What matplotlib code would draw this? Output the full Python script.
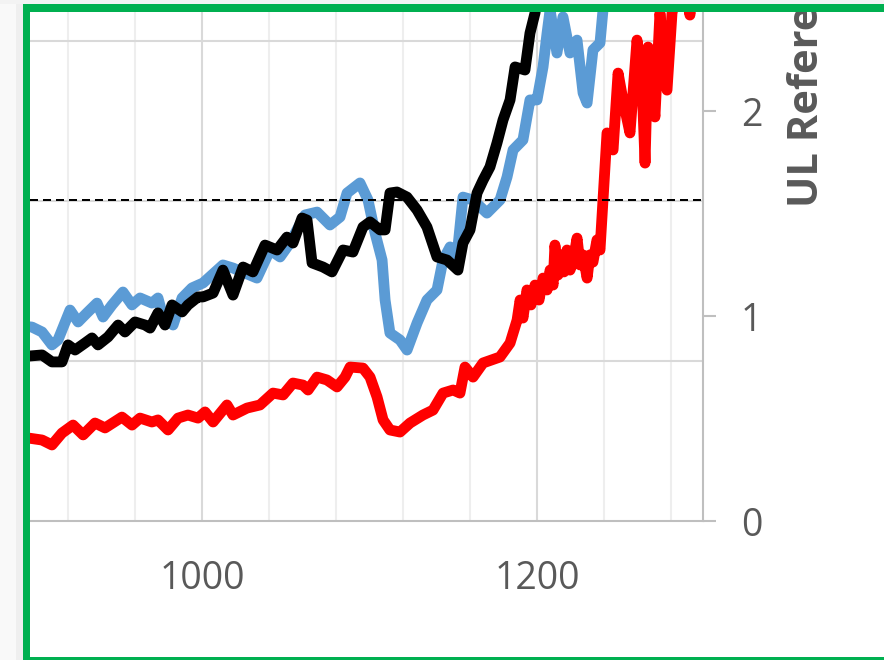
import matplotlib
matplotlib.use("Agg")
import matplotlib.pyplot as plt
from matplotlib.patches import Rectangle
from matplotlib.ticker import MultipleLocator

# ---------------- data ----------------
blue_x = [893, 898.5, 904.5, 910.4, 914.0, 921.2, 926.0, 931.3, 937.3, 940.9, 946.3, 952.8, 958.2,
          963.0, 970.1, 973.7, 976.1, 982.7, 988.1, 994.0, 1000.6, 1012.5, 1018.5, 1032.8, 1040.6,
          1046.6, 1052.5, 1056.7, 1061.5, 1068.7, 1076.4, 1082.4, 1086.6, 1094.3, 1099.1, 1103.3,
          1107.5, 1109.3, 1112.2, 1118.2, 1122.4, 1128.4, 1134.3, 1140.3, 1143.9, 1148.1, 1152.2,
          1155.8, 1161.8, 1170.1, 1177.9, 1182.1, 1185.7, 1191.6, 1195.8, 1200, 1203.6, 1206,
          1207.8, 1211.9, 1215.5, 1219.7, 1223.9, 1227.5, 1229.9, 1233.4, 1237.6, 1239.4, 1244]
blue_y = [0.95, 0.946, 0.922, 0.859, 0.883, 1.029, 0.971, 1.015, 1.063, 0.995, 1.054, 1.117, 1.054,
          1.088, 1.063, 1.088, 1.015, 0.956, 1.088, 1.137, 1.161, 1.249, 1.234, 1.185, 1.322,
          1.288, 1.356, 1.420, 1.493, 1.507, 1.444, 1.483, 1.600, 1.649, 1.566, 1.405,
          1.273, 1.078, 0.917, 0.883, 0.834, 0.966, 1.078, 1.127, 1.273, 1.337, 1.288,
          1.580, 1.566, 1.502, 1.566, 1.678, 1.810, 1.859, 2.054, 2.054, 2.215, 2.380,
          2.493, 2.283, 2.459, 2.283, 2.346, 2.088, 2.039, 2.298, 2.332, 2.493, 2.65]

black_x = [893, 897.3, 904.5, 910.4, 916.4, 920.0, 924.2, 930.1, 934.3, 937.9, 943.9, 949.9, 954.0,
           960.0, 966.0, 969.0, 973.7, 977.9, 982.1, 988.1, 991.6, 997.6, 1000.6, 1006.6, 1012.5,
           1018.5, 1024.5, 1030.4, 1037.6, 1044.8, 1050.7, 1054.3, 1059.7, 1062.7, 1065.7, 1072.2,
           1077.6, 1084.2, 1090.1, 1096.1, 1100.3, 1106.3, 1109.3, 1112.2, 1116.4, 1122.4, 1128.4,
           1134.3, 1140.3, 1146.3, 1152.8, 1155.8, 1160, 1164.2, 1167.8, 1171.9, 1176.1, 1179.7,
           1183.9, 1186.9, 1192.8, 1195.8, 1198.8, 1201.8]
black_y = [0.81, 0.805, 0.810, 0.776, 0.776, 0.859, 0.834, 0.868, 0.893, 0.859, 0.898, 0.956, 0.922,
           0.971, 0.956, 0.941, 1.015, 0.956, 1.054, 1.020, 1.054, 1.093, 1.093, 1.112, 1.224,
           1.102, 1.239, 1.215, 1.346, 1.322, 1.385, 1.356, 1.478, 1.468, 1.259, 1.239,
           1.215, 1.322, 1.312, 1.434, 1.459, 1.420, 1.420, 1.600, 1.605, 1.580, 1.517,
           1.434, 1.288, 1.273, 1.224, 1.356, 1.420, 1.600, 1.663, 1.727, 1.844, 1.956,
           2.054, 2.215, 2.200, 2.380, 2.478, 2.65]

red_x = [891, 896.1, 904.5, 910.4, 916.4, 923.0, 929.0, 936.1, 942.1, 952.2, 958.2, 963.0, 970.1,
         973.7, 979.7, 985.7, 991.6, 997.6, 1001.8, 1006.6, 1014.9, 1018.5, 1026.9, 1034.6, 1042.4,
         1048.4, 1054.3, 1060.3, 1063.3, 1068.7, 1074.6, 1080.6, 1085.4, 1088.4, 1096.1, 1100.3,
         1104.5, 1108.1, 1112.2, 1118.2, 1124.2, 1131.9, 1137.9, 1143.9, 1149.9, 1154.0, 1157.0,
         1161.8, 1167.8, 1177.9, 1183.9,
         1188.1, 1189.9, 1191.6, 1194.0, 1196.4, 1198.8, 1201.2, 1203.6, 1206.0, 1207.8, 1209.6,
         1210.7, 1212.5, 1214.3, 1216.1, 1217.9, 1219.7, 1221.5, 1223.9, 1225.7, 1227.5, 1229.9,
         1231.6, 1233.4, 1235.8, 1237.6, 1239.4,
         1241.8, 1245.4, 1248.4, 1251.3, 1255.5, 1259.7, 1262.7, 1264.5, 1266.3, 1270.4, 1273.4,
         1277.6, 1280.6, 1286.6, 1291.3, 1294.3]
red_y = [0.41, 0.405, 0.395, 0.371, 0.429, 0.468, 0.420, 0.478, 0.454, 0.507, 0.468, 0.502, 0.483,
         0.493, 0.444, 0.502, 0.517, 0.502, 0.532, 0.483, 0.566, 0.517, 0.551, 0.566, 0.624,
         0.615, 0.673, 0.663, 0.639, 0.702, 0.688, 0.654, 0.702, 0.751, 0.746, 0.702,
         0.605, 0.493, 0.444, 0.434, 0.478, 0.517, 0.541, 0.624, 0.639, 0.624, 0.751,
         0.702, 0.771, 0.800, 0.868,
         0.980, 1.078, 0.990, 1.127, 1.054, 1.151, 1.078, 1.185, 1.127, 1.224, 1.151,
         1.346, 1.200, 1.298, 1.215, 1.322, 1.224, 1.263, 1.380, 1.249, 1.298, 1.185,
         1.298, 1.263, 1.371, 1.322, 1.566,
         1.893, 1.810, 2.185, 2.054, 1.893, 2.346, 2.137, 1.746, 2.312, 1.971, 2.478,
         2.102, 2.478, 2.69, 2.468, 2.69]

x_major_ticks = [1000, 1200]
x_tick_labels = ["1000", "1200"]
right_ticks = [0, 1, 2]
right_tick_labels = ["0", "1", "2"]
ref_level = 1.566
right_axis_title = "UL Reference Factor"

# ---------------- figure ----------------
plt.rcParams['font.family'] = ['Open Sans', 'DejaVu Sans']
W, H, DPI = 884, 660, 100
fig = plt.figure(figsize=(W / DPI, H / DPI), dpi=DPI)
fig.patch.set_facecolor('white')


def fx(px):
    return px / W


def fy(py):
    return 1 - py / H


GRAY_TXT = '#595959'
AX_GRAY = '#bfbfbf'

ax = fig.add_axes([fx(30), fy(521), fx(703) - fx(30), fy(12) - fy(521)])
ax.set_xlim(897.3, 1299.1)
ax.set_ylim(0, 3.18125)
ax.set_xticks(x_major_ticks)
ax.set_xticklabels(x_tick_labels, fontsize=27, color=GRAY_TXT)
ax.xaxis.set_minor_locator(MultipleLocator(40))
ax.tick_params(axis='x', which='both', length=0, pad=28)
ax.set_yticks([1, 2, 3])
ax.tick_params(axis='y', length=0, labelleft=False)
ax.grid(which='major', axis='x', color='#d9d9d9', lw=1.5)
ax.grid(which='minor', axis='x', color='#eeeeee', lw=1.5)
ax.grid(which='major', axis='y', color='#d9d9d9', lw=1.5)
ax.set_axisbelow(True)
for s in ['left', 'top', 'right']:
    ax.spines[s].set_visible(False)
ax.spines['bottom'].set_color(AX_GRAY)
ax.spines['bottom'].set_linewidth(1.5)

ax2 = ax.twinx()
ax2.set_ylim(0, 2.483)
ax2.set_yticks(right_ticks)
ax2.set_yticklabels(right_tick_labels)
ax2.tick_params(axis='y', length=9.4, width=1.5, color=AX_GRAY, pad=18,
                labelsize=27, labelcolor=GRAY_TXT)
for s in ['left', 'top', 'bottom']:
    ax2.spines[s].set_visible(False)
ax2.spines['right'].set_color(AX_GRAY)
ax2.spines['right'].set_linewidth(1.5)

kw = dict(lw=7.8, solid_joinstyle='round', solid_capstyle='round')
ax2.plot(red_x, red_y, color='#ff0000', **kw)
ax2.plot(blue_x, blue_y, color='#5b9bd5', **kw)
ax2.plot(black_x, black_y, color='#000000', **kw)
ax2.axhline(ref_level, color='black', lw=1.44, linestyle=(0, (4, 2.5)), zorder=5)

fig.text(fx(807), fy(207), right_axis_title, rotation=90, ha='center', va='bottom',
         fontsize=30, fontweight='bold', color=GRAY_TXT)


# frame / screenshot border overlays
def rect(x0, y0, x1, y1, color):
    fig.add_artist(Rectangle((fx(x0), fy(y1)), fx(x1) - fx(x0), fy(y0) - fy(y1),
                             transform=fig.transFigure, facecolor=color,
                             edgecolor='none', zorder=10))


rect(0, 0, 16, H, '#f9f9f9')
rect(16, 0, 22.5, H, '#efefef')
rect(0, 0, W, 3.7, '#f3f3f3')
GREEN = '#00b050'
rect(22.5, 3.7, 30, H, GREEN)
rect(22.5, 3.7, W, 11.7, GREEN)
rect(22.5, 657, W, H, GREEN)

fig.savefig('out.png', dpi=DPI)
